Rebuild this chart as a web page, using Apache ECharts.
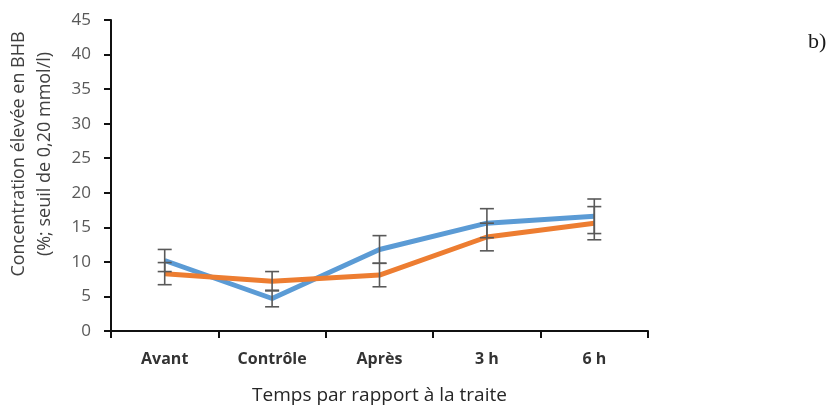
<!DOCTYPE html>
<html>
<head>
<meta charset="utf-8">
<script src="https://cdn.jsdelivr.net/npm/echarts@6/dist/echarts.min.js"></script>
<style>
  html, body { margin: 0; padding: 0; background: #fff; }
  #chart { width: 836px; height: 405px; }
</style>
</head>
<body>
<div id="chart"></div>
<script>
// Moments of sampling relative to milking
const categories = ['Avant', 'Contrôle', 'Après', '3 h', '6 h'];
// Share of cows with elevated BHB (%), two groups
const seriesBlue = [10.2, 4.7, 11.8, 15.6, 16.6];
const seriesOrange = [8.3, 7.2, 8.1, 13.6, 15.6];
// Error bar half-widths for each group
const errBlue = [1.6, 1.2, 2.0, 2.1, 2.5];
const errOrange = [1.6, 1.4, 1.7, 2.0, 2.4];
// Y axis range
const yMin = 0, yMax = 45, yStep = 5;

const BLUE = '#5b9bd5';
const ORANGE = '#ed7d31';
const ERR = '#595959';

function errData(vals, errs) {
  return vals.map((v, i) => [i, v - errs[i], v + errs[i]]);
}

function renderErr(params, api) {
  const x = api.value(0);
  const lo = api.coord([x, api.value(1)]);
  const hi = api.coord([x, api.value(2)]);
  const half = 7;
  const style = { stroke: ERR, lineWidth: 1.6 };
  return {
    type: 'group',
    children: [
      { type: 'line', shape: { x1: hi[0], y1: hi[1], x2: lo[0], y2: lo[1] }, style },
      { type: 'line', shape: { x1: hi[0] - half, y1: hi[1], x2: hi[0] + half, y2: hi[1] }, style },
      { type: 'line', shape: { x1: lo[0] - half, y1: lo[1], x2: lo[0] + half, y2: lo[1] }, style }
    ]
  };
}

const chart = echarts.init(document.getElementById('chart'), null, { renderer: 'canvas' });
chart.setOption({
  animation: false,
  backgroundColor: '#ffffff',
  grid: {
    left: 111, top: 20, right: 188, bottom: 74,
    containLabel: false,
    outerBoundsMode: 'none'
  },
  xAxis: {
    type: 'category',
    data: categories,
    boundaryGap: true,
    axisLine: { lineStyle: { color: '#111111', width: 2 } },
    axisTick: { show: true, length: 7, alignWithLabel: false, lineStyle: { color: '#111111', width: 2 } },
    axisLabel: {
      margin: 20,
      fontFamily: 'Open Sans',
      fontSize: 16,
      fontWeight: 'bold',
      color: '#333333'
    },
    name: 'Temps par rapport à la traite',
    nameLocation: 'middle',
    nameGap: 55,
    nameTextStyle: { fontFamily: 'Open Sans', fontSize: 19, color: '#262626' }
  },
  yAxis: {
    type: 'value',
    min: yMin,
    max: yMax,
    interval: yStep,
    splitLine: { show: false },
    axisLine: { show: true, lineStyle: { color: '#111111', width: 2 } },
    axisTick: { show: true, length: 7, lineStyle: { color: '#111111', width: 2 } },
    axisLabel: {
      margin: 20,
      fontFamily: 'Open Sans',
      fontSize: 17,
      color: '#595959'
    }
  },
  graphic: [
    {
      type: 'text',
      x: 32,
      y: 154,
      rotation: Math.PI / 2,
      style: {
        text: 'Concentration élevée en BHB\n(%; seuil de 0,20 mmol/l)',
        fontFamily: 'Open Sans',
        fontSize: 18,
        lineHeight: 26,
        align: 'center',
        verticalAlign: 'middle',
        fill: '#404040'
      }
    },
    {
      type: 'text',
      x: 808,
      y: 31,
      style: {
        text: 'b)',
        fontFamily: 'Liberation Serif',
        fontSize: 22,
        fill: '#1a1a1a'
      }
    }
  ],
  series: [
    {
      name: 'blue',
      type: 'line',
      data: seriesBlue,
      symbol: 'none',
      z: 2,
      lineStyle: { color: BLUE, width: 5 }
    },
    {
      name: 'orange',
      type: 'line',
      data: seriesOrange,
      symbol: 'none',
      z: 3,
      lineStyle: { color: ORANGE, width: 5 }
    },
    {
      type: 'custom',
      z: 5,
      renderItem: renderErr,
      data: errData(seriesBlue, errBlue),
      encode: { x: 0, y: [1, 2] }
    },
    {
      type: 'custom',
      z: 5,
      renderItem: renderErr,
      data: errData(seriesOrange, errOrange),
      encode: { x: 0, y: [1, 2] }
    }
  ]
});
</script>
</body>
</html>
